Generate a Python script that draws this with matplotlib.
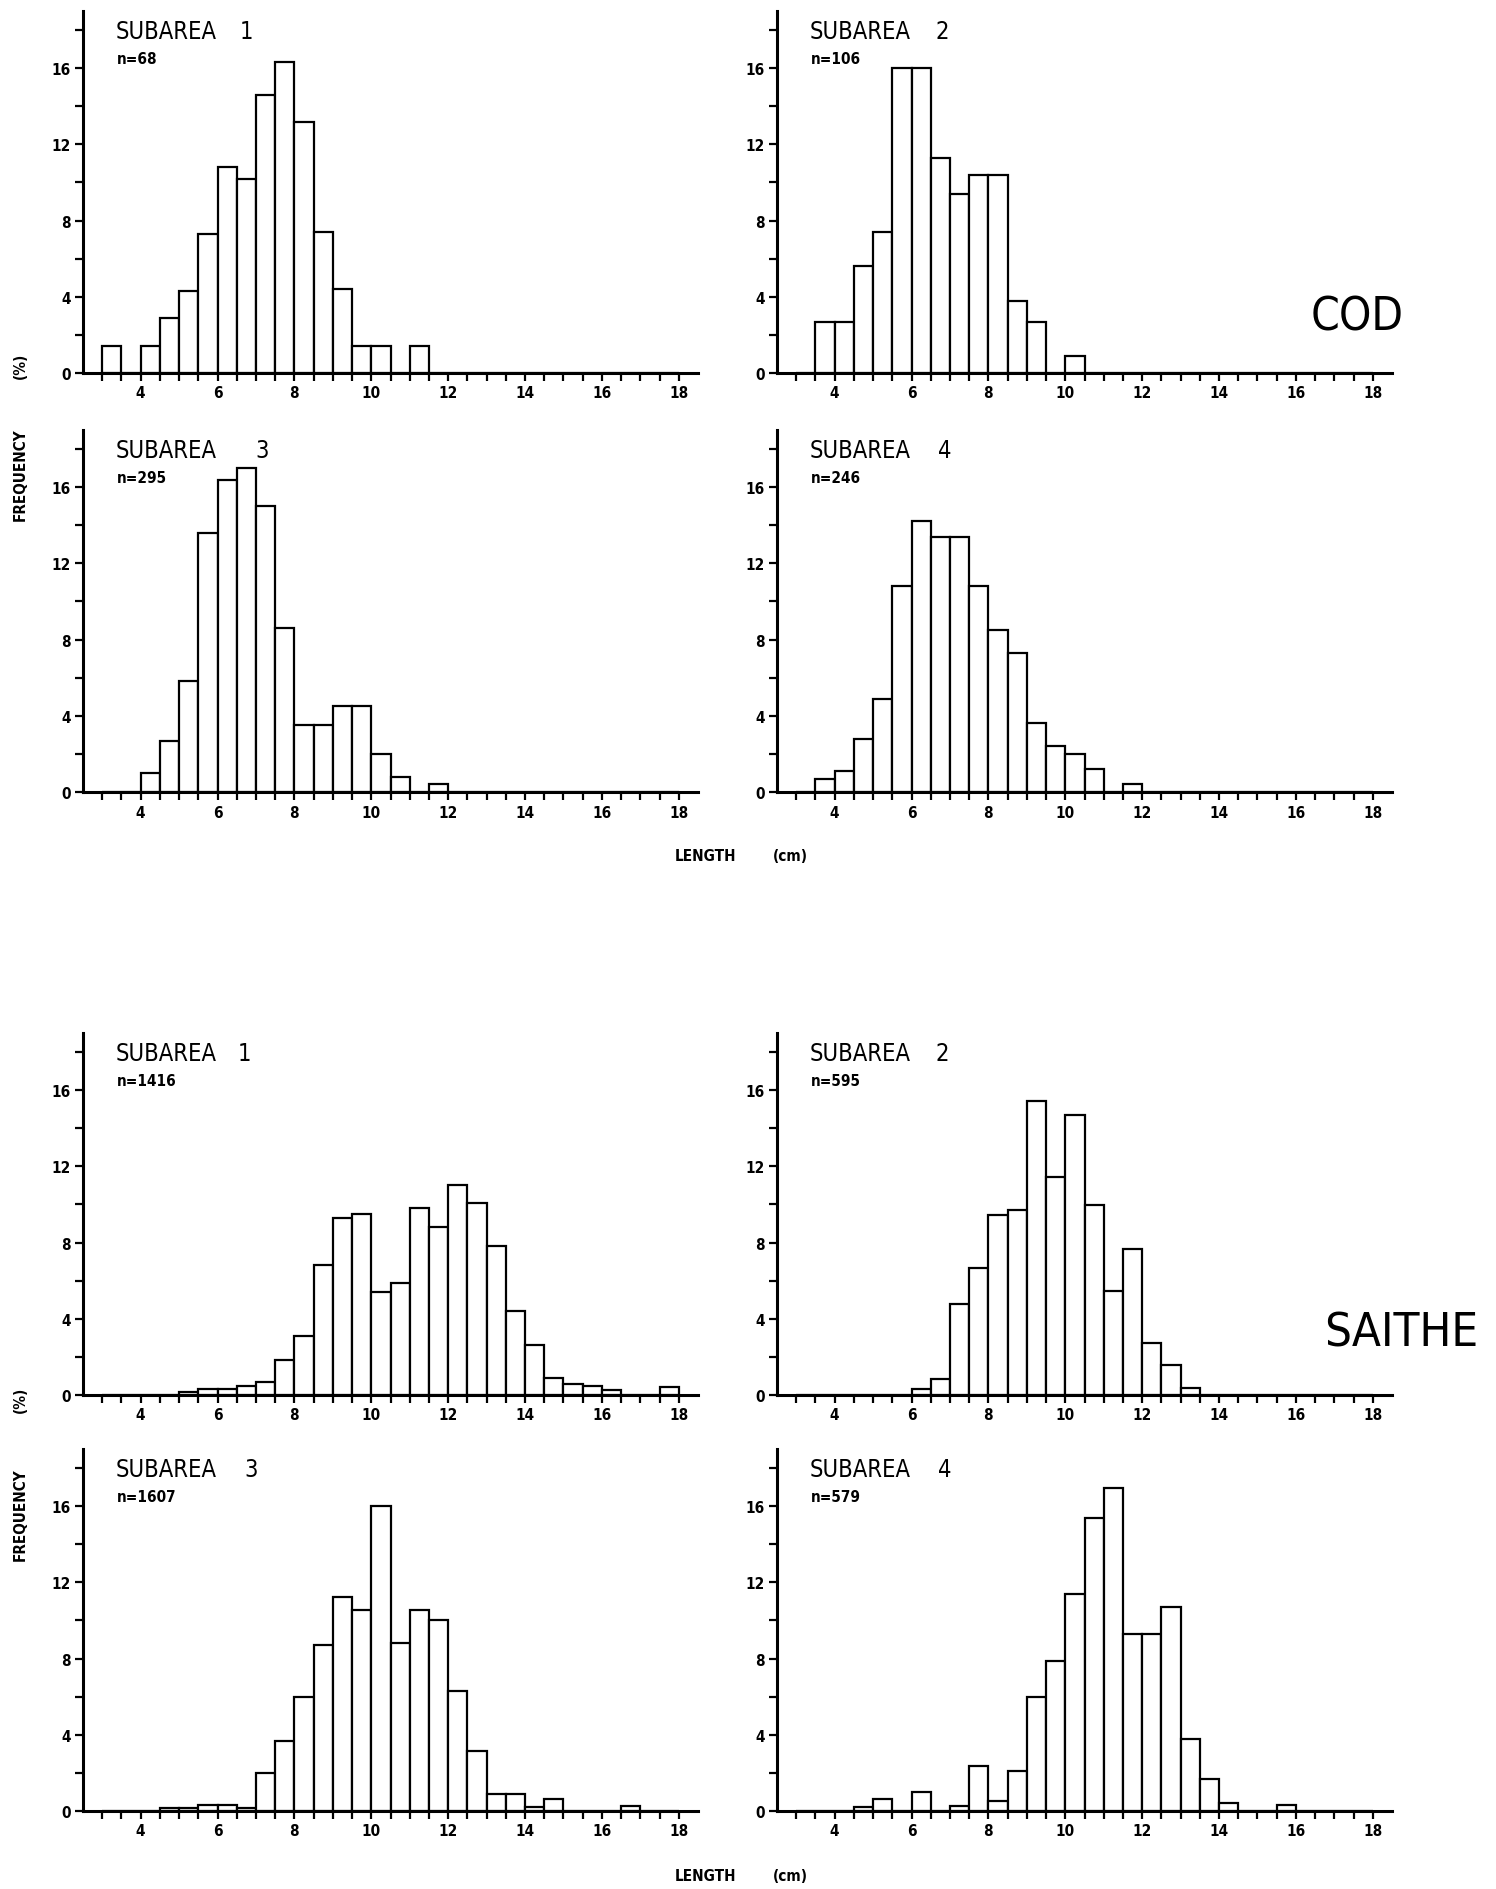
import numpy as np
import matplotlib
matplotlib.use('Agg')
import matplotlib.pyplot as plt

# length classes: left edge of each 0.5 cm bin, 3.0 ... 17.5
bin_left = np.arange(3.0, 18.0, 0.5)

cod_s1 = [1.4, 0, 1.4, 2.9, 4.3, 7.3, 10.8, 10.2, 14.6, 16.3, 13.2, 7.4, 4.4, 1.4, 1.4,
          0, 1.4, 0, 0, 0, 0, 0, 0, 0, 0, 0, 0, 0, 0, 0]
cod_s2 = [0, 2.7, 2.7, 5.6, 7.4, 16.0, 16.0, 11.3, 9.4, 10.4, 10.4, 3.8, 2.7, 0, 0.9,
          0, 0, 0, 0, 0, 0, 0, 0, 0, 0, 0, 0, 0, 0, 0]
cod_s3 = [0, 0, 1.0, 2.7, 5.8, 13.6, 16.4, 17.0, 15.0, 8.6, 3.5, 3.5, 4.5, 4.5, 2.0,
          0.8, 0, 0.4, 0, 0, 0, 0, 0, 0, 0, 0, 0, 0, 0, 0]
cod_s4 = [0, 0.7, 1.1, 2.8, 4.9, 10.8, 14.2, 13.4, 13.4, 10.8, 8.5, 7.3, 3.6, 2.4, 2.0,
          1.2, 0, 0.4, 0, 0, 0, 0, 0, 0, 0, 0, 0, 0, 0, 0]
saithe_s1 = [0, 0, 0, 0, 0.15, 0.3, 0.3, 0.45, 0.7, 1.85, 3.1, 6.8, 9.3, 9.5, 5.4,
             5.9, 9.8, 8.8, 11.0, 10.1, 7.8, 4.4, 2.65, 0.9, 0.6, 0.45, 0.25, 0, 0, 0.4]
saithe_s2 = [0, 0, 0, 0, 0, 0, 0.3, 0.85, 4.8, 6.65, 9.45, 9.7, 15.45, 11.45, 14.7,
             9.95, 5.45, 7.65, 2.75, 1.55, 0.35, 0, 0, 0, 0, 0, 0, 0, 0, 0]
saithe_s3 = [0, 0, 0, 0.15, 0.15, 0.3, 0.3, 0.15, 2.0, 3.7, 6.0, 8.7, 11.25, 10.55, 16.0,
             8.8, 10.55, 10.05, 6.3, 3.15, 0.9, 0.9, 0.2, 0.65, 0, 0, 0, 0.25, 0, 0]
saithe_s4 = [0, 0, 0, 0.2, 0.65, 0, 1.0, 0, 0.25, 2.35, 0.55, 2.1, 6.0, 7.85, 11.4,
             15.4, 16.95, 9.3, 9.3, 10.7, 3.8, 1.7, 0.4, 0, 0, 0.3, 0, 0, 0, 0]

subareas = ['1', '2', '3', '4']
cod_n = ['68', '106', '295', '246']
saithe_n = ['1416', '595', '1607', '579']

xtick_major = [4, 6, 8, 10, 12, 14, 16, 18]
ytick_major = [0, 4, 8, 12, 16]

FAMILY = ['DejaVu Sans']
STRETCH = 'condensed'

W, H = 1496, 1890
fig = plt.figure(figsize=(W / 100, H / 100), dpi=100)

# panel frames in pixels (left, bottom-from-top), all the same size
col_left = [83, 777]
row_bottom = [374, 793, 1396, 1812]
ax_w, ax_h = 615, 362
# where the subarea number sits (axes fraction), per species
cod_num_x = [0.255, 0.258, 0.28, 0.262]
saithe_num_x = [0.252, 0.258, 0.262, 0.262]


def draw_panel(ax, values, sub, n, num_pos):
    ax.bar(bin_left, values, width=0.5, align='edge', facecolor='white',
           edgecolor='black', linewidth=1.6, zorder=2)
    ax.set_xlim(2.5, 18.5)
    ax.set_ylim(0, 19)
    for s in ['top', 'right']:
        ax.spines[s].set_visible(False)
    for s in ['left', 'bottom']:
        ax.spines[s].set_linewidth(2.2)
        ax.spines[s].set_zorder(3)
    ax.set_xticks(xtick_major)
    ax.set_xticks(np.arange(3.0, 18.01, 0.5), minor=True)
    ax.set_yticks(ytick_major)
    ax.set_yticks([2, 6, 10, 14, 18], minor=True)
    ax.set_xticklabels([str(v) for v in xtick_major])
    ax.set_yticklabels([str(v) for v in ytick_major])
    ax.tick_params(which='both', direction='out', length=6, width=1.6,
                   labelsize=11, pad=3)
    for lab in ax.get_xticklabels() + ax.get_yticklabels():
        lab.set_family(FAMILY)
        lab.set_fontweight('bold')
        lab.set_fontstretch(STRETCH)
    ax.text(0.053, 0.945, 'SUBAREA', transform=ax.transAxes, fontsize=17,
            family=FAMILY, fontstretch=STRETCH, va='center', ha='left')
    ax.text(num_pos, 0.945, sub, transform=ax.transAxes, fontsize=17,
            family=FAMILY, fontstretch=STRETCH, va='center', ha='left')
    ax.text(0.055, 0.87, 'n=' + n, transform=ax.transAxes, fontsize=11,
            family=FAMILY, fontstretch=STRETCH, fontweight='bold',
            va='center', ha='left')


cod = [cod_s1, cod_s2, cod_s3, cod_s4]
saithe = [saithe_s1, saithe_s2, saithe_s3, saithe_s4]
for i in range(4):
    r, c = divmod(i, 2)
    for block, data, ns, nx in [(0, cod, cod_n, cod_num_x),
                                (1, saithe, saithe_n, saithe_num_x)]:
        yb = row_bottom[block * 2 + r]
        ax = fig.add_axes([col_left[c] / W, 1 - yb / H, ax_w / W, ax_h / H])
        draw_panel(ax, data[i], subareas[i], ns[i], nx[i])

# species labels
fig.text(1404 / W, 1 - 318 / H, 'COD', fontsize=33, family=FAMILY,
         fontstretch=STRETCH, ha='right', va='center')
fig.text(1478 / W, 1 - 1334 / H, 'SAITHE', fontsize=34, family=FAMILY,
         fontstretch=STRETCH, ha='right', va='center')

# axis titles
for y_pct, y_freq in [(366, 475), (1400, 1515)]:
    fig.text(20 / W, 1 - y_pct / H, '(%)', rotation=90, fontsize=11,
             family=FAMILY, fontstretch=STRETCH, fontweight='bold',
             ha='center', va='center')
    fig.text(20 / W, 1 - y_freq / H, 'FREQUENCY', rotation=90, fontsize=11,
             family=FAMILY, fontstretch=STRETCH, fontweight='bold',
             ha='center', va='center')
for y_len in [857, 1877]:
    fig.text(675 / W, 1 - y_len / H, 'LENGTH', fontsize=11, family=FAMILY,
             fontstretch=STRETCH, fontweight='bold', ha='left', va='center')
    fig.text(773 / W, 1 - y_len / H, '(cm)', fontsize=11, family=FAMILY,
             fontstretch=STRETCH, fontweight='bold', ha='left', va='center')

fig.savefig('out.png', dpi=100, facecolor='white')
